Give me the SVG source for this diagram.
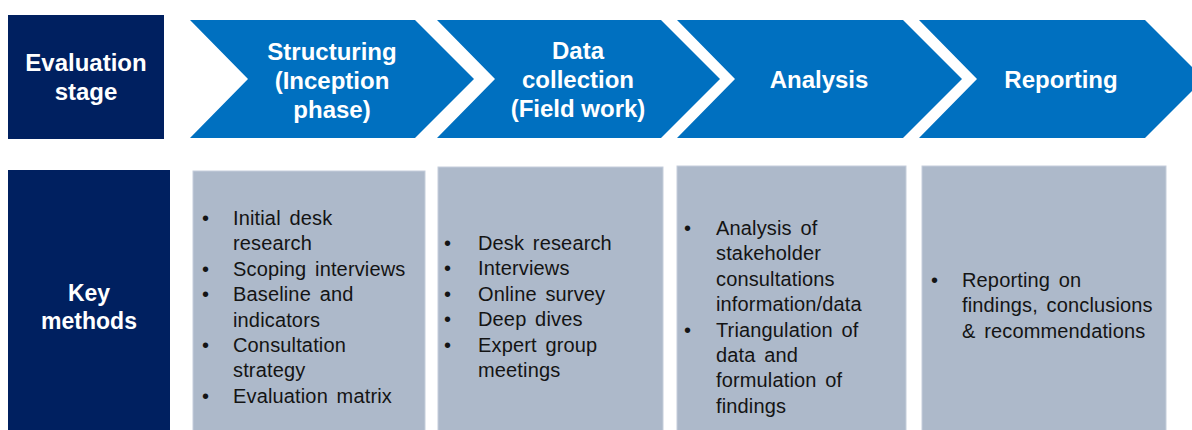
<svg xmlns="http://www.w3.org/2000/svg" width="1192" height="430" viewBox="0 0 1192 430">
<style>
.navy{fill:#002060}
.chev{fill:#0070C0}
.box{fill:#ADB9CA;stroke:#C5CEDB;stroke-width:1}
.hd{font-family:"Liberation Sans",Arial,sans-serif;font-weight:bold;font-size:24px;fill:#ffffff;text-anchor:middle}
.km{font-family:"Liberation Sans",Arial,sans-serif;font-weight:bold;font-size:23px;fill:#ffffff;text-anchor:middle}
.tx{font-family:"Liberation Sans",Arial,sans-serif;font-size:20px;fill:#141414;word-spacing:3px;letter-spacing:0.15px}
</style>
<rect width="1192" height="430" fill="#ffffff"/>
<g id="evaluation-stage">
<rect class="navy" x="8" y="15" width="156" height="124"/>
<text class="hd" x="86" y="71">Evaluation</text>
<text class="hd" x="86" y="100">stage</text>
</g>
<g id="stage-structuring">
<polygon class="chev" points="190,20 415,20 474,79 415,138 190,138 248,79"/>
<text class="hd" x="332" y="60">Structuring</text>
<text class="hd" x="332" y="89">(Inception</text>
<text class="hd" x="332" y="118">phase)</text>
</g>
<g id="stage-data-collection">
<polygon class="chev" points="437,20 661,20 720,79 661,138 437,138 495,79"/>
<text class="hd" x="578" y="59">Data</text>
<text class="hd" x="578" y="88">collection</text>
<text class="hd" x="578" y="117">(Field work)</text>
</g>
<g id="stage-analysis">
<polygon class="chev" points="677,20 903,20 962,79 903,138 677,138 735,79"/>
<text class="hd" x="819" y="88">Analysis</text>
</g>
<g id="stage-reporting">
<polygon class="chev" points="919,20 1145,20 1204,79 1145,138 919,138 977,79"/>
<text class="hd" x="1061" y="88">Reporting</text>
</g>
<g id="key-methods">
<rect class="navy" x="8" y="170" width="162" height="262"/>
<text class="km" x="89" y="301">Key</text>
<text class="km" x="89" y="329">methods</text>
</g>
<g id="methods-structuring">
<rect class="box" x="193" y="171" width="232" height="262"/>
<g class="tx">
<text x="202" y="225">•</text><text x="233" y="225">Initial desk</text>
<text x="233" y="250.4">research</text>
<text x="202" y="275.8">•</text><text x="233" y="275.8">Scoping interviews</text>
<text x="202" y="301.2">•</text><text x="233" y="301.2">Baseline and</text>
<text x="233" y="326.6">indicators</text>
<text x="202" y="352">•</text><text x="233" y="352">Consultation</text>
<text x="233" y="377.4">strategy</text>
<text x="202" y="402.8">•</text><text x="233" y="402.8">Evaluation matrix</text>
</g>
</g>
<g id="methods-data-collection">
<rect class="box" x="438" y="167" width="225" height="266"/>
<g class="tx">
<text x="444" y="250">•</text><text x="478" y="250">Desk research</text>
<text x="444" y="275.4">•</text><text x="478" y="275.4">Interviews</text>
<text x="444" y="300.8">•</text><text x="478" y="300.8">Online survey</text>
<text x="444" y="326.2">•</text><text x="478" y="326.2">Deep dives</text>
<text x="444" y="351.6">•</text><text x="478" y="351.6">Expert group</text>
<text x="478" y="377">meetings</text>
</g>
</g>
<g id="methods-analysis">
<rect class="box" x="677" y="166" width="229" height="267"/>
<g class="tx">
<text x="684" y="235">•</text><text x="716" y="235">Analysis of</text>
<text x="716" y="260.4">stakeholder</text>
<text x="716" y="285.8">consultations</text>
<text x="716" y="311.2">information/data</text>
<text x="684" y="336.6">•</text><text x="716" y="336.6">Triangulation of</text>
<text x="716" y="362">data and</text>
<text x="716" y="387.4">formulation of</text>
<text x="716" y="412.8">findings</text>
</g>
</g>
<g id="methods-reporting">
<rect class="box" x="922" y="166" width="244" height="267"/>
<g class="tx">
<text x="931" y="287">•</text><text x="962" y="287">Reporting on</text>
<text x="962" y="312.4">findings, conclusions</text>
<text x="962" y="337.8">&amp; recommendations</text>
</g>
</g>
<g id="connectors"></g>
</svg>
